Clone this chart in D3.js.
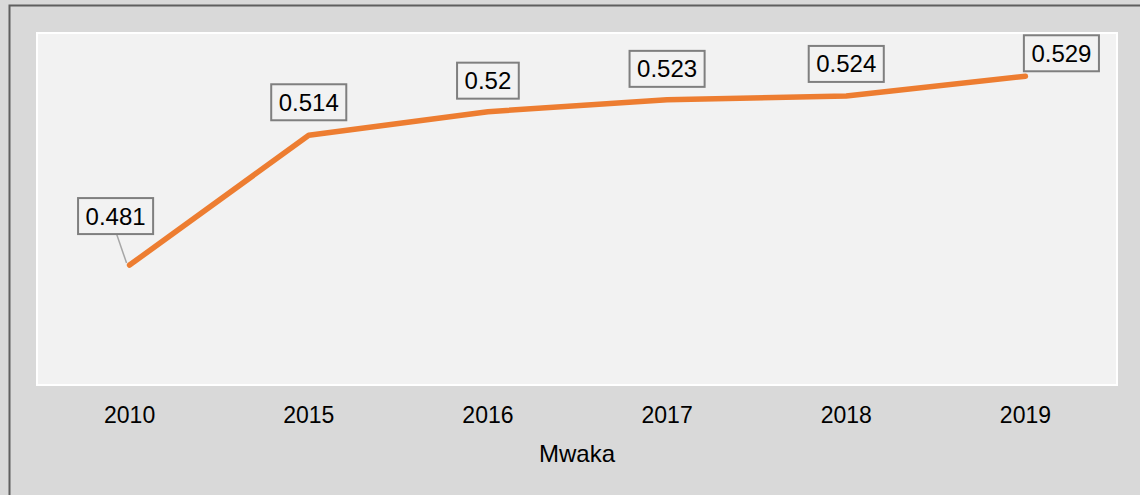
<!DOCTYPE html>
<html>
<head>
<meta charset="utf-8">
<script src="https://cdn.jsdelivr.net/npm/d3@7"></script>
<style>
	body { margin: 0; background: #d9d9d9; }
	text { font-family: "Liberation Sans", Arial, sans-serif; fill: #000; }
</style>
</head>
<body>
<svg id="chart"></svg>
<script>
var years = ["2010", "2015", "2016", "2017", "2018", "2019"];
var values = [0.481, 0.514, 0.52, 0.523, 0.524, 0.529];
var valueLabels = ["0.481", "0.514", "0.52", "0.523", "0.524", "0.529"];
var axisTitle = "Mwaka";

// label placement relative to its point (dx, dy of box centre)
var labelOffsets = [[-14, -49], [0, -33], [0, -31], [0, -31], [0, -32], [36, -23]];

var width = 1140, height = 495;
var plot = { left: 37, top: 33, right: 1117, bottom: 385 };

var svg = d3.select("#chart")
	.attr("width", width)
	.attr("height", height);

svg.append("rect")
	.attr("width", width).attr("height", height)
	.attr("fill", "#d9d9d9");

// outer frame
svg.append("rect")
	.attr("x", 9.5).attr("y", 5.5)
	.attr("width", width + 20).attr("height", height + 20)
	.attr("fill", "none")
	.attr("stroke", "#5f5f5f")
	.attr("stroke-width", 2);

// plot area
svg.append("rect")
	.attr("x", plot.left).attr("y", plot.top)
	.attr("width", plot.right - plot.left).attr("height", plot.bottom - plot.top)
	.attr("fill", "#f2f2f2")
	.attr("stroke", "#ffffff")
	.attr("stroke-width", 2);

var xScale = d3.scaleBand().domain(years).range([40, 1115]);
var yScale = d3.scaleLinear().domain([0.45, 0.54]).range([387, 33]);

var xAxis = svg.append("g")
	.attr("transform", "translate(0," + plot.bottom + ")")
	.call(d3.axisBottom(xScale).tickSize(0));
xAxis.select(".domain").remove();
xAxis.selectAll("text")
	.attr("y", 38)
	.attr("dy", 0)
	.style("font-family", "'Liberation Sans', Arial, sans-serif")
	.style("font-size", "23px")
	.attr("fill", "#000");

svg.append("text")
	.attr("x", (plot.left + plot.right) / 2)
	.attr("y", 462)
	.attr("text-anchor", "middle")
	.style("font-size", "24px")
	.text(axisTitle);

var data = years.map(function(y, i) { return { year: y, value: values[i], label: valueLabels[i], off: labelOffsets[i] }; });

var line = d3.line()
	.x(function(d) { return xScale(d.year) + xScale.bandwidth() / 2; })
	.y(function(d) { return yScale(d.value); });

// leader line for first label
var first = data[0];
var fx = xScale(first.year) + xScale.bandwidth() / 2, fy = yScale(first.value);
svg.append("line")
	.attr("x1", fx - 3).attr("y1", fy - 2)
	.attr("x2", fx + first.off[0] + 1).attr("y2", fy + first.off[1] + 18)
	.attr("stroke", "#a6a6a6")
	.attr("stroke-width", 1.5);

svg.append("path")
	.datum(data)
	.attr("d", line)
	.attr("fill", "none")
	.attr("stroke", "#ed7d31")
	.attr("stroke-width", 5.5)
	.attr("stroke-linecap", "round")
	.attr("stroke-linejoin", "round");

var labels = svg.selectAll(".valueLabel")
	.data(data)
	.enter()
	.append("g")
	.attr("class", "valueLabel")
	.attr("transform", function(d) {
		var cx = xScale(d.year) + xScale.bandwidth() / 2 + d.off[0];
		var cy = yScale(d.value) + d.off[1];
		return "translate(" + cx + "," + cy + ")";
	});

labels.append("rect").attr("class", "box");
labels.append("text")
	.attr("text-anchor", "middle")
	.attr("y", 8.5)
	.style("font-size", "24px")
	.text(function(d) { return d.label; });

labels.each(function() {
	var g = d3.select(this);
	var bb = g.select("text").node().getBBox();
	var w = bb.width + 15, h = 36;
	g.select("rect")
		.attr("x", -w / 2).attr("y", -h / 2)
		.attr("width", w).attr("height", h)
		.attr("fill", "#f2f2f2")
		.attr("stroke", "#7f7f7f")
		.attr("stroke-width", 2);
});
</script>
</body>
</html>
